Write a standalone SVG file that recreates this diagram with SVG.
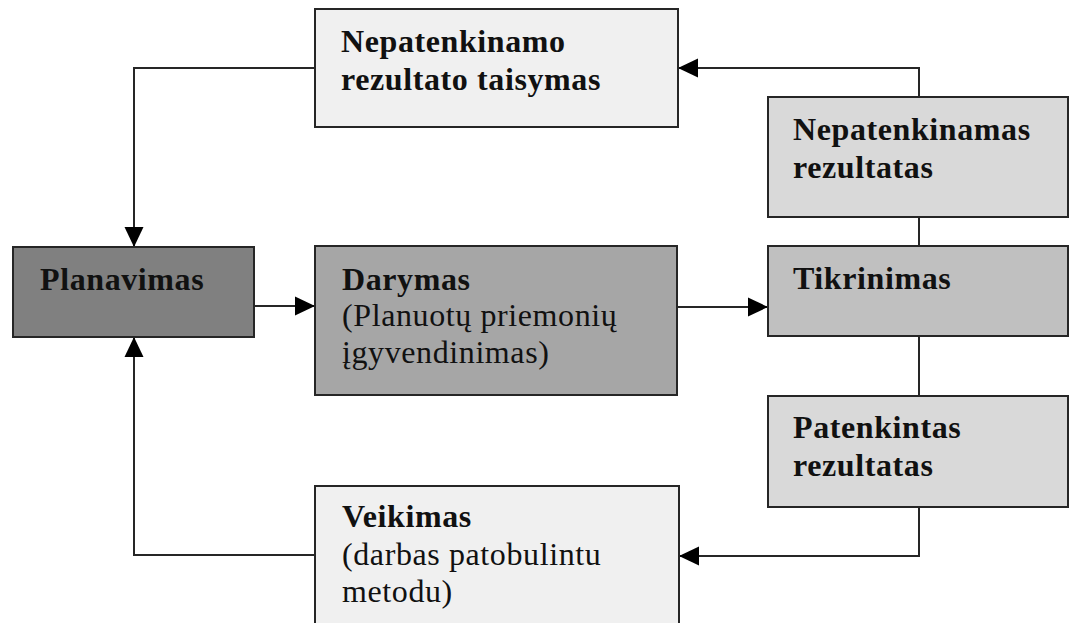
<svg xmlns="http://www.w3.org/2000/svg" width="1069" height="623" viewBox="0 0 1069 623">
<style>
.box{stroke:#262626;stroke-width:2}
.t{font-family:"Liberation Serif","Times New Roman",serif;font-size:32px;letter-spacing:0.6px;fill:#111}
.b{font-weight:bold}
.c{fill:none;stroke:#262626;stroke-width:2}
</style>
<defs>
<marker id="arr" markerUnits="userSpaceOnUse" markerWidth="20" markerHeight="20" viewBox="0 0 20 20" refX="20" refY="10" orient="auto">
<path d="M0,0.5 L20,10 L0,19.5 z" fill="#000"/>
</marker>
</defs>
<rect width="1069" height="623" fill="#fff"/>
<g id="connectors">
<path class="c" d="M315,68 H134 V247" marker-end="url(#arr)"/>
<path class="c" d="M919,97 V68 H678" marker-end="url(#arr)"/>
<path class="c" d="M919,217 V246"/>
<path class="c" d="M919,336 V396"/>
<path class="c" d="M919,507 V556 H679" marker-end="url(#arr)"/>
<path class="c" d="M315,555 H134 V337" marker-end="url(#arr)"/>
<path class="c" d="M254,306 H315" marker-end="url(#arr)"/>
<path class="c" d="M677,307 H768" marker-end="url(#arr)"/>
</g>
<g id="n-taisymas">
<rect class="box" x="315" y="9" width="363" height="118" fill="#f0f0f0"/>
<text class="t b" x="341" y="52">Nepatenkinamo</text>
<text class="t b" x="341" y="90">rezultato taisymas</text>
</g>
<g id="n-planavimas">
<rect class="box" x="13" y="247" width="241" height="90" fill="#808080"/>
<text class="t b" x="40" y="290">Planavimas</text>
</g>
<g id="n-darymas">
<rect class="box" x="315" y="246" width="362" height="149" fill="#a6a6a6"/>
<text class="t b" x="342" y="290">Darymas</text>
<text class="t" x="342" y="326">(Planuotų priemonių</text>
<text class="t" x="342" y="363">įgyvendinimas)</text>
</g>
<g id="n-nepatenkinamas">
<rect class="box" x="768" y="97" width="300" height="120" fill="#d9d9d9"/>
<text class="t b" x="793" y="140">Nepatenkinamas</text>
<text class="t b" x="793" y="178">rezultatas</text>
</g>
<g id="n-tikrinimas">
<rect class="box" x="768" y="246" width="300" height="90" fill="#c0c0c0"/>
<text class="t b" x="793" y="289">Tikrinimas</text>
</g>
<g id="n-patenkintas">
<rect class="box" x="768" y="396" width="300" height="111" fill="#d9d9d9"/>
<text class="t b" x="793" y="438">Patenkintas</text>
<text class="t b" x="793" y="476">rezultatas</text>
</g>
<g id="n-veikimas">
<rect class="box" x="315" y="486" width="364" height="160" fill="#f0f0f0"/>
<text class="t b" x="342" y="527">Veikimas</text>
<text class="t" x="342" y="565">(darbas patobulintu</text>
<text class="t" x="342" y="602">metodu)</text>
</g>
</svg>
